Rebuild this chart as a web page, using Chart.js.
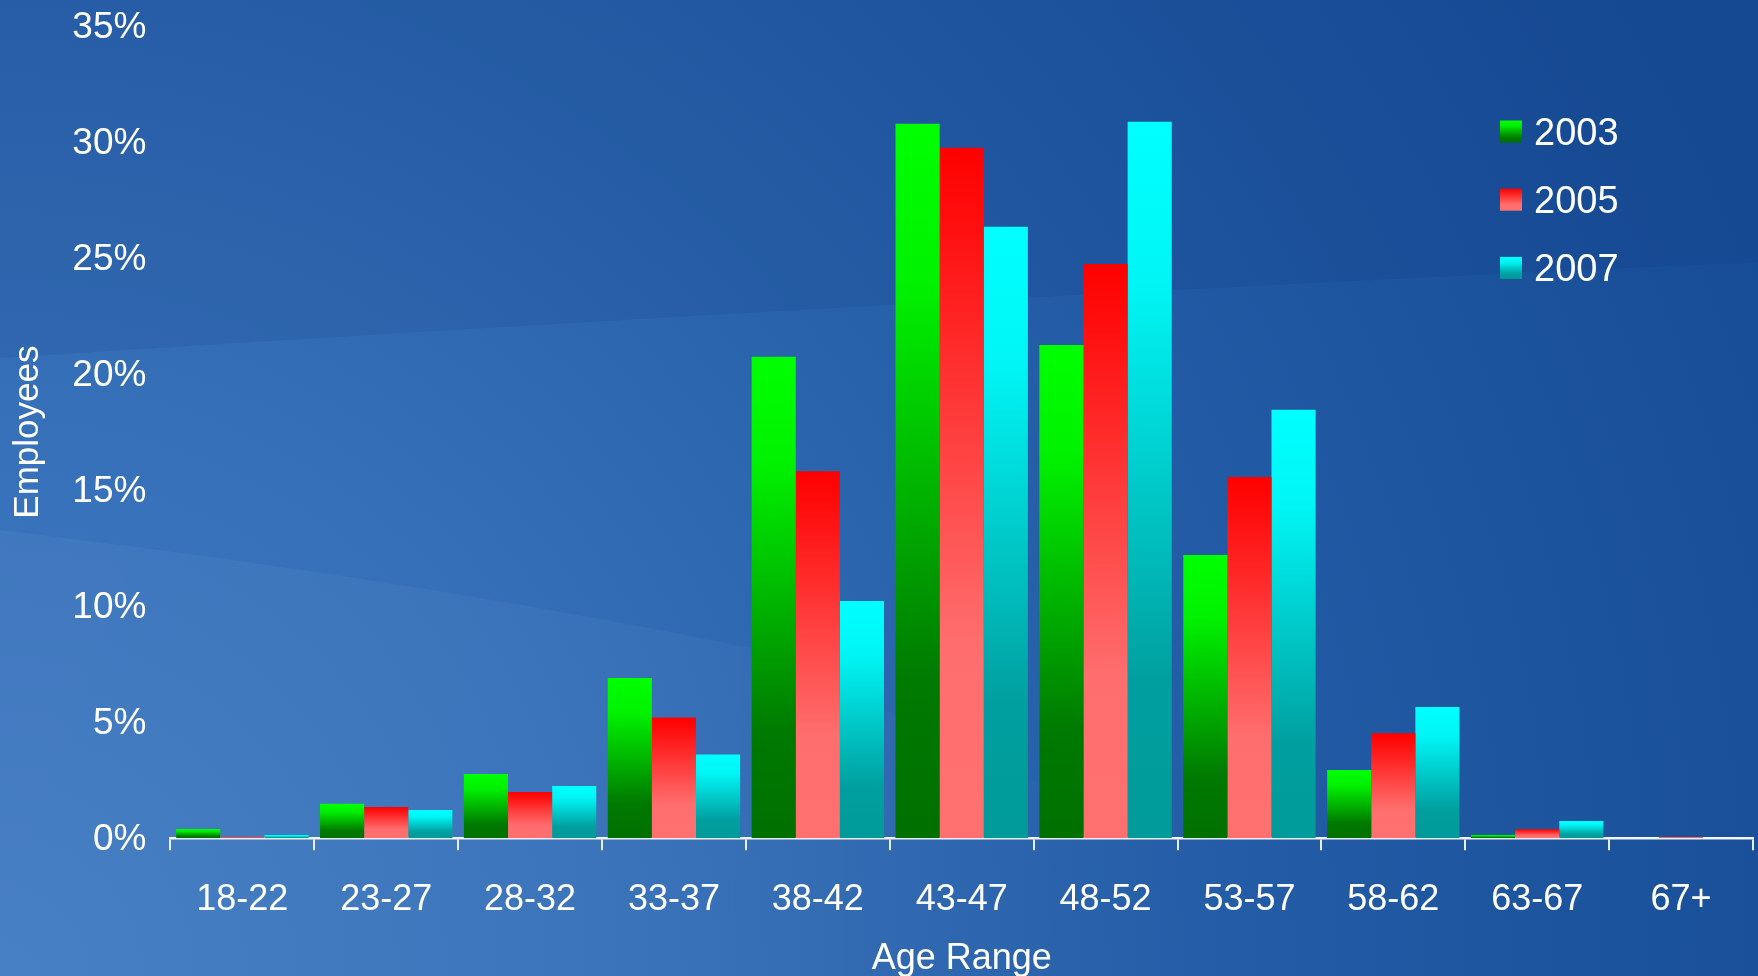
<!DOCTYPE html>
<html>
<head>
<meta charset="utf-8">
<title>Employees by Age Range</title>
<script src="https://cdn.jsdelivr.net/npm/chart.js@4.4.1/dist/chart.umd.min.js"></script>
<style>
  html, body { margin: 0; padding: 0; background: #2a62ab; }
  #wrap { width: 1758px; height: 976px; position: relative; }
  canvas { display: block; }
</style>
</head>
<body>
<div id="wrap"><canvas id="chart" width="1758" height="976"></canvas></div>
<script>
// Age ranges on the x axis
const ageRanges = ['18-22', '23-27', '28-32', '33-37', '38-42', '43-47', '48-52', '53-57', '58-62', '63-67', '67+'];

// Share of employees (%) in each age range, by year
const series2003 = [0.40, 1.49, 2.77, 6.91, 20.75, 30.79, 21.26, 12.21, 2.94, 0.14, 0];
const series2005 = [0.06, 1.35, 2.00, 5.20, 15.82, 29.75, 24.75, 15.57, 4.53, 0.39, 0.05];
const series2007 = [0.14, 1.22, 2.25, 3.61, 10.23, 26.35, 30.87, 18.46, 5.66, 0.75, 0];

const seriesLabels = ['2003', '2005', '2007'];
const yTicks = [0, 5, 10, 15, 20, 25, 30, 35];

// Vertical colour ramps, bright at the top of each bar, darker at its base
const ramps = {
  '2003': [[0, '#00ff00'], [0.22, '#00f200'], [0.78, '#007a00'], [1, '#007000']],
  '2005': [[0, '#ff0000'], [0.12, '#ff1010'], [0.72, '#ff6e6e'], [1, '#ff7070']],
  '2007': [[0, '#00ffff'], [0.22, '#00f6f6'], [0.78, '#009f9f'], [1, '#009a9a']]
};

function rampGradient(ctx, label, top, bottom) {
  const g = ctx.createLinearGradient(0, top, 0, Math.max(bottom, top + 1));
  ramps[label].forEach(([s, c]) => g.addColorStop(s, c));
  return g;
}

function barFill(context) {
  const chart = context.chart;
  const label = context.dataset.label;
  const yScale = chart.scales.y;
  if (!chart.chartArea || !yScale || context.parsed === undefined) {
    return ramps[label][0][1];
  }
  const top = yScale.getPixelForValue(context.parsed.y);
  const base = yScale.getPixelForValue(0);
  return rampGradient(chart.ctx, label, top, base);
}

// Slide-style blue backdrop with soft lighter bands
const backdrop = {
  id: 'backdrop',
  beforeDraw(chart) {
    const { ctx, width, height } = chart;
    ctx.save();
    const rg = ctx.createRadialGradient(0, height, 0, 0, height, 1900);
    rg.addColorStop(0, '#407bc3');
    rg.addColorStop(0.3, '#3670b9');
    rg.addColorStop(0.55, '#2862ab');
    rg.addColorStop(0.8, '#1d559f');
    rg.addColorStop(1, '#174d96');
    ctx.fillStyle = rg;
    ctx.fillRect(0, 0, width, height);

    // darker upper band
    ctx.beginPath();
    ctx.moveTo(0, 0);
    ctx.lineTo(width, 0);
    ctx.lineTo(width, 262);
    ctx.quadraticCurveTo(900, 300, 0, 358);
    ctx.closePath();
    ctx.fillStyle = 'rgba(10, 40, 110, 0.10)';
    ctx.fill();

    // lighter lower-left band, fading out towards the right
    const fade = ctx.createLinearGradient(0, 0, 1200, 0);
    fade.addColorStop(0, 'rgba(255, 255, 255, 0.04)');
    fade.addColorStop(0.6, 'rgba(255, 255, 255, 0.03)');
    fade.addColorStop(1, 'rgba(255, 255, 255, 0)');
    ctx.beginPath();
    ctx.moveTo(0, 530);
    ctx.quadraticCurveTo(420, 580, 760, 650);
    ctx.lineTo(1200, 860);
    ctx.lineTo(1200, height);
    ctx.lineTo(0, height);
    ctx.closePath();
    ctx.fillStyle = fade;
    ctx.fill();
    ctx.restore();
  }
};

// Legend stacked in the upper right, built from the datasets
const sideLegend = {
  id: 'sideLegend',
  afterDraw(chart) {
    const { ctx } = chart;
    const x0 = 1500, y0 = 131.5, step = 68.2, box = 22;
    ctx.save();
    ctx.font = '38px "Liberation Sans", Arial, sans-serif';
    ctx.textBaseline = 'middle';
    ctx.textAlign = 'left';
    chart.data.datasets.forEach((ds, i) => {
      const cy = y0 + i * step;
      ctx.fillStyle = rampGradient(ctx, ds.label, cy - box / 2, cy + box / 2);
      ctx.fillRect(x0, cy - box / 2, box, box);
      ctx.fillStyle = '#ffffff';
      ctx.fillText(ds.label, x0 + 34, cy + 3);
    });
    ctx.restore();
  }
};

const seriesValues = [series2003, series2005, series2007];

new Chart(document.getElementById('chart'), {
  type: 'bar',
  data: {
    labels: ageRanges,
    datasets: seriesLabels.map((label, i) => ({
      label: label,
      data: seriesValues[i],
      backgroundColor: barFill,
      borderWidth: 0,
      categoryPercentage: 0.92,
      barPercentage: 1.0
    }))
  },
  options: {
    responsive: false,
    animation: false,
    events: [],
    layout: { padding: { top: 26, right: 5, left: 0, bottom: 0 } },
    plugins: {
      legend: { display: false },
      tooltip: { enabled: false },
      title: { display: false }
    },
    scales: {
      x: {
        afterFit(scale) { scale.height = 137.7; },
        border: { display: true, color: '#f2f5fa', width: 2.5 },
        grid: {
          display: true,
          offset: true,
          drawOnChartArea: false,
          drawTicks: true,
          tickLength: 12,
          color: '#e8eef7',
          lineWidth: 2
        },
        ticks: {
          color: '#ffffff',
          padding: 28.5,
          maxRotation: 0,
          font: { family: '"Liberation Sans", Arial, sans-serif', size: 36 }
        },
        title: {
          display: true,
          text: 'Age Range',
          color: '#ffffff',
          padding: { top: 0, bottom: 0 },
          font: { family: '"Liberation Sans", Arial, sans-serif', size: 36, lineHeight: 0.95 }
        }
      },
      y: {
        min: 0,
        max: 35,
        afterFit(scale) {
          scale.width = 170.4;
          scale.paddingTop = 0;
          scale.paddingBottom = 0;
        },
        afterBuildTicks(scale) { scale.ticks = yTicks.map(v => ({ value: v })); },
        border: { display: false },
        grid: { display: false, drawTicks: false },
        ticks: {
          color: '#ffffff',
          padding: 24,
          labelOffset: 1.5,
          callback: v => v + '%',
          font: { family: '"Liberation Sans", Arial, sans-serif', size: 37 }
        },
        title: {
          display: true,
          text: 'Employees',
          color: '#ffffff',
          padding: { top: 11, bottom: 0 },
          font: { family: '"Liberation Sans", Arial, sans-serif', size: 35, lineHeight: 1 }
        }
      }
    }
  },
  plugins: [backdrop, sideLegend]
});
</script>
</body>
</html>
